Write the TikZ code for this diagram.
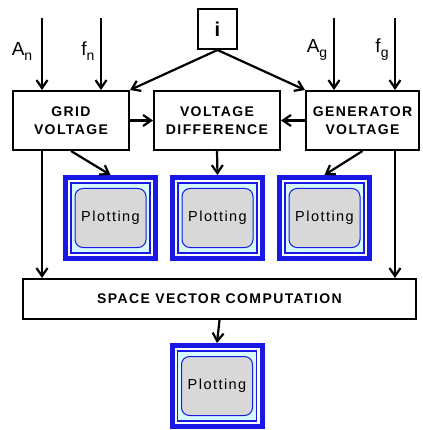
\documentclass[tikz,border=0pt]{standalone}
\usepackage{fontspec}
\setmainfont{Liberation Sans}
\newfontfamily\boxfont[LetterSpace=10]{Liberation Sans}
\newfontfamily\plotfont[LetterSpace=10]{Liberation Sans}
\usetikzlibrary{arrows.meta}
\definecolor{pblue}{RGB}{25,25,230}
\definecolor{pcyan}{RGB}{215,250,255}
\definecolor{pgray}{RGB}{216,216,216}
\newcommand\myplot[3]{%
  \node[plotouter] (#1) at (#2,#3) {};
  \draw[plotmid] ([shift={(8,8)}]#1.north west) rectangle ([shift={(-8,-8)}]#1.south east);
  \node[plotinner] (#1in) at (#1) {Plotting};
}
\begin{document}
\begin{tikzpicture}[x=1pt,y=-1pt,
  blockbox/.style={draw=black, line width=2pt, minimum width=#1, minimum height=59pt, inner sep=0pt, align=center, font=\boxfont\bfseries\fontsize{14}{18}\selectfont},
  arr/.style={line width=2.2pt, -{Straight Barb[length=8pt,width=11pt,line width=2.2pt]}},
  plotouter/.style={draw=pblue, line width=5pt, minimum width=90pt, minimum height=81pt, inner sep=0pt, outer sep=2.5pt},
  plotmid/.style={draw=pblue, line width=1.3pt, fill=pcyan},
  plotinner/.style={draw=pblue, line width=1pt, fill=pgray, rounded corners=8pt, minimum width=71pt, minimum height=59pt, inner sep=0pt, font=\plotfont\fontsize{14.5}{17}\selectfont},
  lab/.style={inner sep=0pt, font=\fontsize{19}{19}\selectfont},
]
\useasboundingbox (0,0) rectangle (422,430);

\node[draw=black, line width=2pt, minimum width=39pt, minimum height=40pt, inner sep=0pt, font=\bfseries\fontsize{20}{20}\selectfont] (i) at (217.5,29) {i};

\node[blockbox=116pt] (grid) at (71,120.5) {GRID\\VOLTAGE};
\node[blockbox=126pt] (vd) at (217,120.5) {VOLTAGE\\DIFFERENCE};
\node[blockbox=113pt] (gen) at (362.5,120.5) {GENERATOR\\VOLTAGE};

\node[draw=black, line width=2pt, minimum width=393pt, minimum height=40pt, inner sep=0pt, font=\boxfont\bfseries\fontsize{14}{18}\selectfont] (svc) at (219.5,299) {SPACE VECTOR COMPUTATION};

\myplot{p1}{110.5}{218}
\myplot{p2}{217.5}{218}
\myplot{p3}{324.5}{218}
\myplot{p4}{217}{386}

\coordinate (an) at (42,18);
\coordinate (fn) at (101,18);
\coordinate (ag) at (334,18);
\coordinate (fg) at (395,18);

\node[lab] (lan) at (22,51) {A\raisebox{-5pt}{\fontsize{14}{14}\selectfont n}};
\node[lab] (lfn) at (88,51) {f\raisebox{-5pt}{\fontsize{14}{14}\selectfont n}};
\node[lab] (lag) at (317,50) {A\raisebox{-5pt}{\fontsize{14}{14}\selectfont g}};
\node[lab] (lfg) at (382,50) {f\raisebox{-5pt}{\fontsize{14}{14}\selectfont g}};

\draw[arr] (an) -- (an |- grid.north);
\draw[arr] (fn) -- (fn |- grid.north);
\draw[arr] (ag) -- (ag |- gen.north);
\draw[arr] (fg) -- (fg |- gen.north);
\draw[arr] (i.south) -- (grid.north east);
\draw[arr] (i.south) -- (gen.north west);
\draw[arr] (grid.east) -- (vd.west);
\draw[arr] (gen.west) -- (vd.east);
\draw[arr] (grid.south) -- (p1.north);
\draw[arr] (vd.south) -- (p2.north);
\draw[arr] (gen.south) -- (p3.north);
\draw[arr] (an |- grid.south) -- (an |- svc.north);
\draw[arr] (fg |- gen.south) -- (fg |- svc.north);
\draw[arr] (svc.south) -- (p4.north);
\end{tikzpicture}
\end{document}
